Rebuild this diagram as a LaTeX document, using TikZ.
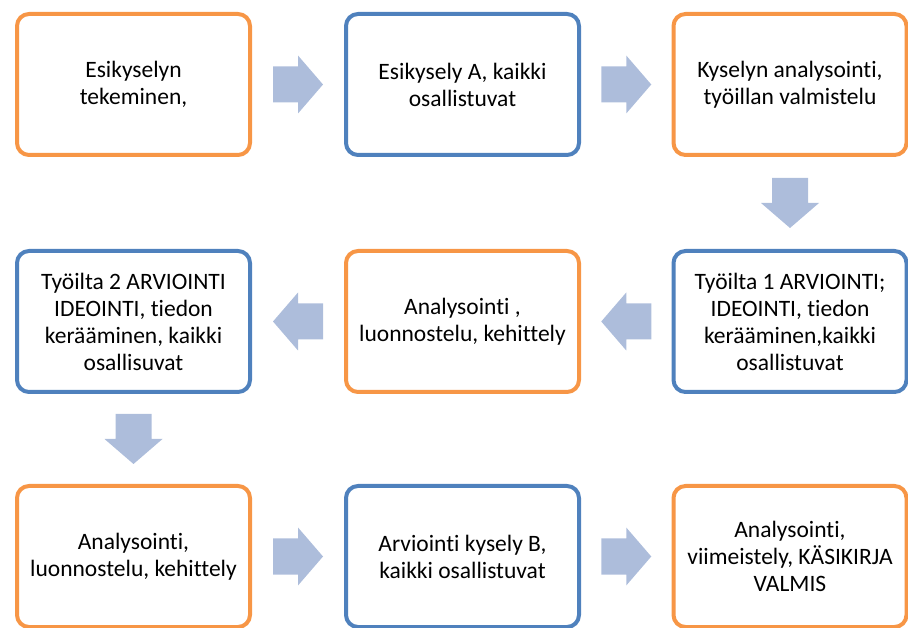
\documentclass[tikz,border=0pt]{standalone}
\usepackage{fontspec}
\setmainfont{Carlito}[Ligatures=NoCommon]
\usetikzlibrary{calc}

\definecolor{vaiheoranssi}{RGB}{247,150,70}
\definecolor{vaihesininen}{RGB}{79,129,189}
\definecolor{nuolisininen}{RGB}{173,189,219}

\tikzset{
  vaihe/.style={draw, line width=4pt, rounded corners=12pt, fill=white,
    minimum width=233pt, minimum height=141pt, inner sep=0pt,
    align=center, font=\fontsize{23.5}{27}\selectfont},
  oranssi/.style={vaihe, draw=vaiheoranssi},
  sininen/.style={vaihe, draw=vaihesininen},
  pics/nuoli/.style={code={
    \fill[nuolisininen] (-25,-18) -- (0,-18) -- (0,-29) -- (25,0)
      -- (0,29) -- (0,18) -- (-25,18) -- cycle;}}
}

\begin{document}
\begin{tikzpicture}[x=1pt,y=1pt]
  \useasboundingbox (0,0) rectangle (908,627);

  % ylarivi
  \node[oranssi] (v1) at (133.5,542.5) {Esikyselyn\\tekeminen,};
  \node[sininen] (v2) at (462.5,542.5) {Esikysely A, kaikki\\osallistuvat};
  \node[oranssi] (v3) at (790,542.5) {Kyselyn analysointi,\\työillan valmistelu};

  % keskirivi
  \node[sininen] (v4) at (790,305.5) {Työilta 1 ARVIOINTI;\\IDEOINTI, tiedon\\kerääminen,kaikki\\osallistuvat};
  \node[oranssi] (v5) at (462.5,305.5) {Analysointi ,\\luonnostelu, kehittely};
  \node[sininen] (v6) at (133.5,305.5) {Työilta 2 ARVIOINTI\\IDEOINTI, tiedon\\kerääminen, kaikki\\osallisuvat};

  % alarivi
  \node[oranssi] (v7) at (133.5,70.5) {Analysointi,\\luonnostelu, kehittely};
  \node[sininen] (v8) at (462.5,70.5) {Arviointi kysely B,\\kaikki osallistuvat};
  \node[oranssi] (v9) at (790,70.5) {Analysointi,\\viimeistely, KÄSIKIRJA\\VALMIS};

  % nuolet
  \pic at ($(v1.east)!0.5!(v2.west)$) {nuoli};
  \pic at ($(v2.east)!0.5!(v3.west)$) {nuoli};
  \pic[rotate=-90] at ($(v3.south)!0.5!(v4.north)$) {nuoli};
  \pic[rotate=180] at ($(v4.west)!0.5!(v5.east)$) {nuoli};
  \pic[rotate=180] at ($(v5.west)!0.5!(v6.east)$) {nuoli};
  \pic[rotate=-90] at ($(v6.south)!0.5!(v7.north)$) {nuoli};
  \pic at ($(v7.east)!0.5!(v8.west)$) {nuoli};
  \pic at ($(v8.east)!0.5!(v9.west)$) {nuoli};
\end{tikzpicture}
\end{document}
